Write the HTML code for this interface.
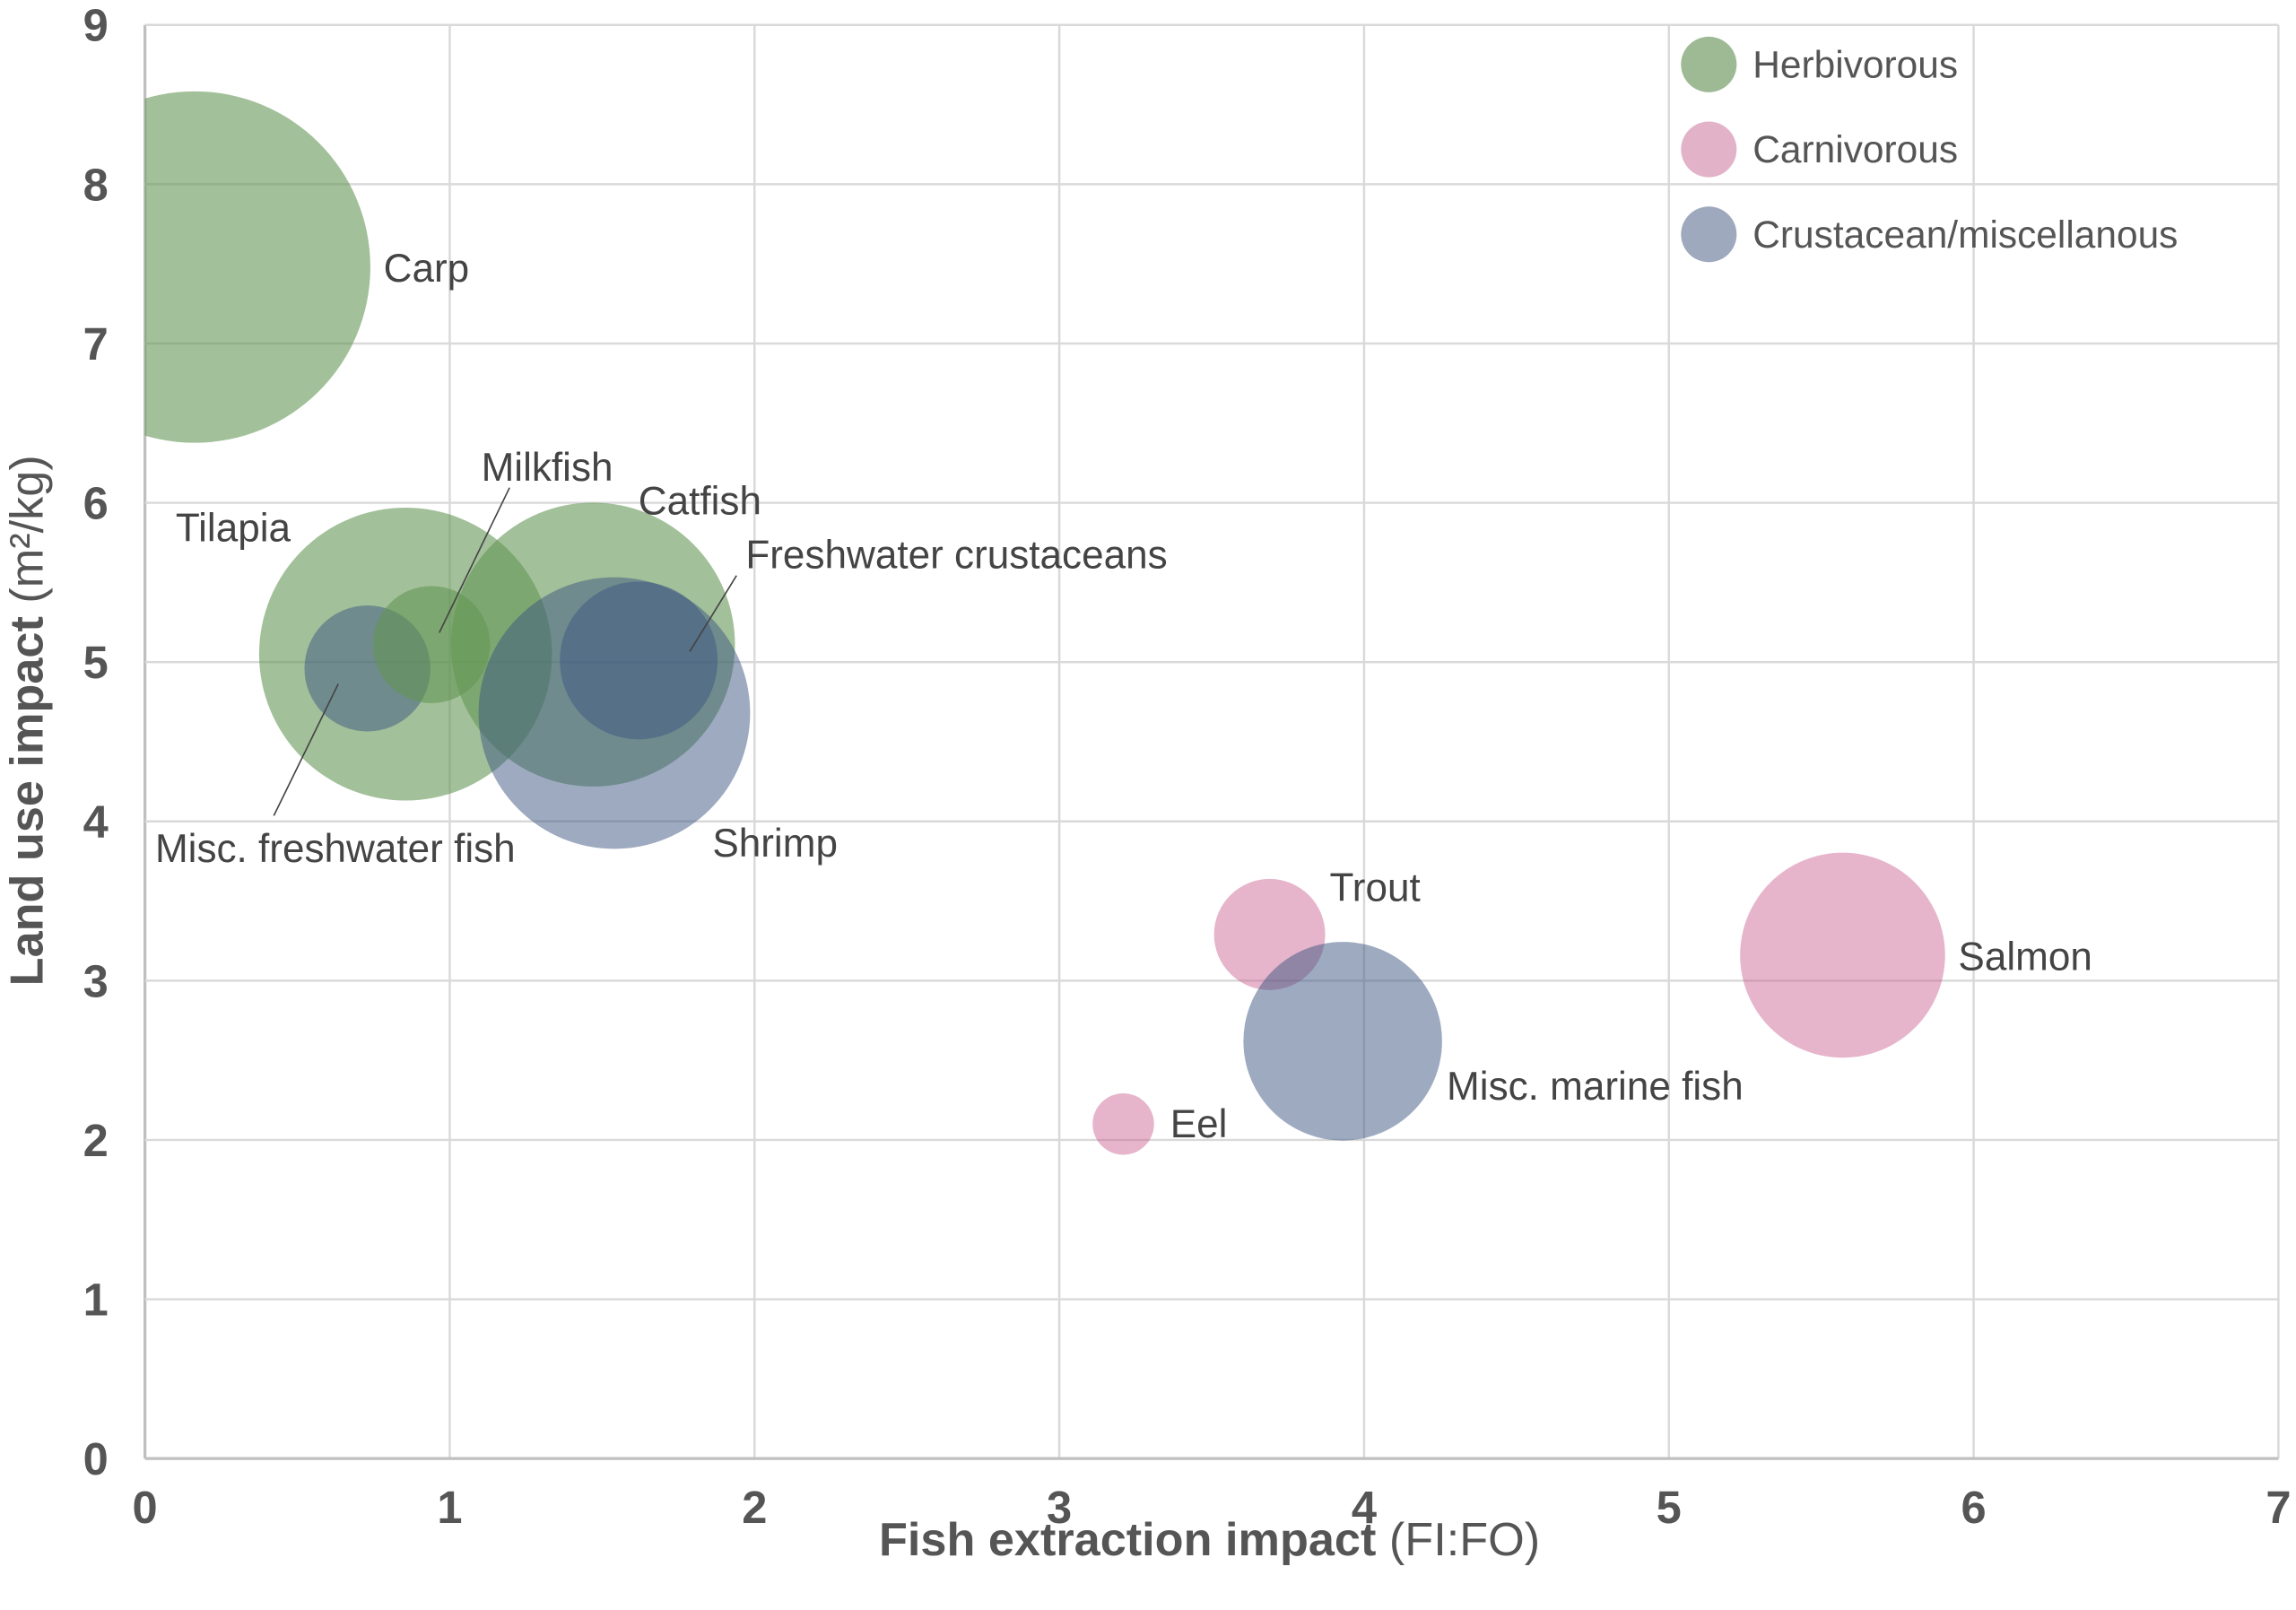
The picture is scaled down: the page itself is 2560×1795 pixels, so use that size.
<!DOCTYPE html>
<html><head><meta charset="utf-8"><style>
html,body{margin:0;padding:0;background:#fff;}
svg{display:block;font-family:"Liberation Sans",Arial,sans-serif;}
</style></head><body>
<svg id="chart" width="2560" height="1795" viewBox="0 0 1568 1099.4" xmlns="http://www.w3.org/2000/svg">
<defs><clipPath id="plotclip"><rect x="99" y="0" width="1460" height="996"/></clipPath></defs>
<g id="grid"></g>
<g id="bubbles" clip-path="url(#plotclip)"></g>
<g id="leaders"></g>
<g id="labels"></g>
<g id="ticks"></g>
<text x="826" y="1062" text-anchor="middle" font-size="32" fill="#555"><tspan font-weight="bold">Fish extraction impact</tspan> (FI:FO)</text>
<text transform="translate(29,492) rotate(-90)" text-anchor="middle" font-size="32" fill="#555"><tspan font-weight="bold">Land use impact</tspan> (m²/kg)</text>
<g>
 <g><circle cx="1167" cy="44" r="19" fill="#9dba95"/><text x="1197" y="53" font-size="26" fill="#555">Herbivorous</text></g>
 <g><circle cx="1167" cy="102" r="19" fill="#e2b3c8"/><text x="1197" y="111" font-size="26" fill="#555">Carnivorous</text></g>
 <g><circle cx="1167" cy="160" r="19" fill="#9ea9bd"/><text x="1197" y="169" font-size="26" fill="#555">Crustacean/miscellanous</text></g>
</g>
</svg>
<script>
const names = ["Carp","Tilapia","Misc. freshwater fish","Milkfish","Catfish","Shrimp","Freshwater crustaceans","Trout","Misc. marine fish","Eel","Salmon"];
const xValues = [0.163,0.855,0.73,0.94,1.47,1.54,1.62,3.69,3.93,3.21,5.57];
const yValues = [7.48,5.05,4.96,5.11,5.11,4.68,5.01,3.29,2.62,2.10,3.16];
const sizes = [144,100,18.5,16,94,86,29,14.4,46,4.4,49];
const groups = ["h","h","c","h","h","c","c","m","c","m","m"];
const xTicks = ["0","1","2","3","4","5","6","7"];
const yTicks = ["0","1","2","3","4","5","6","7","8","9"];
const labelOffsets = [[129,0],[-157,-87],[-145,122],[34,-122],[31,-99],[67,88],[73,-73],[41,-33],[71,30],[32,-1],[79,0]];

const NS="http://www.w3.org/2000/svg";
const X0=99,X1=1556,Y0=996,Y1=17;
const xs=v=>X0+(v/7)*(X1-X0);
const ys=v=>Y0-(v/9)*(Y0-Y1);
const rs=s=>Math.sqrt(s)*10;
const fills={h:"rgba(100,150,85,0.6)",c:"rgba(60,85,130,0.5)",m:"rgba(200,90,140,0.45)"};
function mk(tag,attrs,parent){const e=document.createElementNS(NS,tag);for(const k in attrs)e.setAttribute(k,attrs[k]);parent.appendChild(e);return e;}
const grid=document.getElementById('grid'),ticks=document.getElementById('ticks');
xTicks.forEach((t,i)=>{
  const v=+t;
  const l=mk('line',{x1:xs(v),x2:xs(v),y1:Y1,y2:Y0,stroke:i===0?"#bfbfbf":"#d9d9d9","stroke-width":i===0?2:1.5},grid);
  
  
  const tx=mk('text',{x:xs(v),y:1040,"text-anchor":"middle","font-size":31,"font-weight":"bold",fill:"#555"},ticks);
  tx.textContent=t;
  
  
});
yTicks.forEach((t,i)=>{
  const v=+t;
  const l=mk('line',{x1:X0,x2:X1,y1:ys(v),y2:ys(v),stroke:i===0?"#bfbfbf":"#d9d9d9","stroke-width":i===0?2:1.5},grid);
  
  
  const tx=mk('text',{x:74,y:ys(v)+11,"text-anchor":"end","font-size":31,"font-weight":"bold",fill:"#555"},ticks);
  tx.textContent=t;
  
  
});
const bub=document.getElementById('bubbles'),labs=document.getElementById('labels');
names.forEach((n,i)=>{
  const cx=xs(xValues[i]),cy=ys(yValues[i]);
  const c=mk('circle',{cx:cx,cy:cy,r:rs(sizes[i]),fill:fills[groups[i]]},bub);
  
  
  const t=mk('text',{x:cx+labelOffsets[i][0],y:cy+labelOffsets[i][1]+10,"font-size":27,fill:"#444"},labs);
  t.textContent=n;
  
  
});
const leaders=document.getElementById('leaders');
[[348,333,300,432],[503,393,471,445],[187,557,231,467]].forEach(a=>{
  const l=mk('line',{x1:a[0],y1:a[1],x2:a[2],y2:a[3],stroke:"#444","stroke-width":1},leaders);
  
  
});
</script>
</body></html>
